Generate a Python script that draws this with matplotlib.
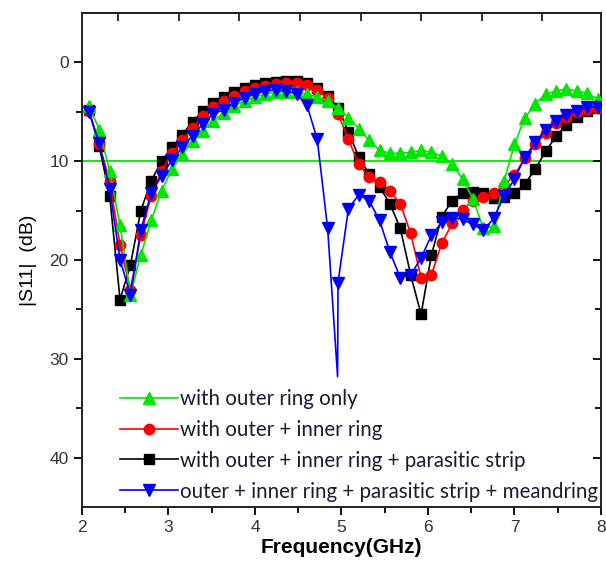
import numpy as np
import matplotlib
matplotlib.use("Agg")
import matplotlib.pyplot as plt

# ── Data ─────────────────────────────────────────────────────────────────────
freq = np.round(np.arange(2.08, 7.99, 0.12), 2)

green_db = [4.4, 6.8, 11.0, 16.5, 23.5, 19.5, 16.0, 13.0, 10.8, 9.3,
            8.0, 6.9, 5.9, 5.1, 4.4, 3.9, 3.5, 3.2, 3.0, 3.0,
            3.0, 3.2, 3.5, 3.9, 4.6, 5.6, 6.7, 7.9, 8.9, 9.2,
            9.2, 9.1, 8.9, 9.1, 9.5, 10.3, 11.8, 13.8, 16.8, 16.6,
            12.0, 8.3, 5.6, 4.2, 3.2, 2.9, 2.7, 2.9, 3.1, 3.7]

red_db = [4.9, 8.3, 12.0, 18.5, 23.0, 17.5, 13.5, 11.0, 9.2, 7.9,
          6.6, 5.4, 4.5, 3.9, 3.4, 2.9, 2.6, 2.4, 2.2, 2.1,
          2.1, 2.3, 2.8, 3.6, 5.2, 7.8, 10.3, 11.6, 12.1, 13.0,
          14.3, 17.3, 21.8, 21.5, 18.3, 16.3, 14.9, 14.0, 13.6, 13.2,
          12.5, 11.4, 9.7, 8.3, 7.1, 6.1, 5.5, 5.0, 4.7, 4.6]

black_db = [4.8, 8.5, 13.5, 24.0, 20.5, 15.0, 12.0, 10.0, 8.6, 7.3,
            6.0, 4.9, 4.1, 3.5, 3.0, 2.6, 2.3, 2.1, 2.0, 1.9,
            1.9, 2.1, 2.6, 3.4, 4.6, 7.0, 9.6, 11.3, 12.6, 14.3,
            16.8, 21.5, 25.5, 19.5, 15.6, 14.0, 13.2, 13.1, 13.2, 13.7,
            13.6, 13.2, 12.3, 10.8, 9.0, 7.5, 6.3, 5.5, 4.9, 4.6]

blue_db = [5.0, 8.2, 12.8, 20.0, 23.5, 17.0, 13.2, 11.5, 9.9, 8.6,
           7.4, 6.2, 5.2, 4.8, 4.1, 3.6, 3.2, 2.9, 2.8, 2.9,
           3.2, 4.3, 7.8, 16.8, 22.3, 14.8, 13.4, 14.0, 16.0, 19.2,
           21.8, 21.5, 19.8, 17.5, 16.2, 15.7, 15.9, 16.4, 17.0, 15.8,
           13.5, 11.8, 9.6, 8.1, 6.8, 5.9, 5.3, 4.9, 4.5, 4.5]

# sharp resonance of the meander-ring curve (line only, no marker)
blue_notch_f = 4.955
blue_notch_db = 31.8

threshold_db = 10

labels = ["with outer ring only",
          "with outer + inner ring",
          "with outer + inner ring + parasitic strip",
          "outer + inner ring + parasitic strip + meandring"]

# ── Figure ───────────────────────────────────────────────────────────────────
fig = plt.figure(figsize=(6.06, 5.65), dpi=100)
ax = fig.add_axes([0.1353, 0.1027, 0.8564, 0.8743])

GREEN, RED, BLACK, BLUE = "#00e600", "#ff0000", "#000000", "#0000ff"

ax.axhline(threshold_db, color=GREEN, lw=1.3, zorder=1)

l_black, = ax.plot(freq, black_db, color=BLACK, marker="s", ms=7, lw=1.2, zorder=2)
l_red, = ax.plot(freq, red_db, color=RED, marker="o", ms=7.5, lw=1.2, zorder=3)
l_green, = ax.plot(freq, green_db, color=GREEN, marker="^", ms=8, lw=1.2, zorder=4)

idx = int(np.searchsorted(freq, blue_notch_f))
blue_f = np.insert(freq, idx, blue_notch_f)
blue_y = np.insert(np.array(blue_db), idx, blue_notch_db)
marks = [i for i in range(len(blue_f)) if i != idx]
l_blue, = ax.plot(blue_f, blue_y, color=BLUE, marker="v", ms=8, lw=1.2,
                  markevery=marks, zorder=5)

ax.set_xlim(2, 8)
ax.set_ylim(45, -5)
ax.set_xticks(np.arange(2, 8.1, 1))
ax.set_xticks(np.arange(2.5, 8, 1), minor=True)
ax.set_yticks(np.arange(0, 41, 10))
ax.set_yticks(np.arange(5, 45, 10), minor=True)

tick_font = {"family": "Liberation Sans", "size": 12.5}
ax.set_xticklabels([f"{int(v)}" for v in np.arange(2, 8.1, 1)], fontdict=tick_font, color="#333333")
ax.set_yticklabels([f"{int(v)}" for v in np.arange(0, 41, 10)], fontdict=tick_font, color="#333333")

ax.tick_params(axis="both", which="major", direction="out", length=6, width=1.3, top=False)
ax.tick_params(axis="both", which="minor", direction="out", length=4, width=1.3, top=False)
ax.tick_params(axis="y", which="both", right=True, labelright=False)
for side in ["left", "right", "top", "bottom"]:
    ax.spines[side].set_linewidth(1.4)
    ax.spines[side].set_color("#222222")

# right-hand ticks point inward
for t in ax.yaxis.get_major_ticks() + ax.yaxis.get_minor_ticks():
    t.tick2line.set_marker(matplotlib.lines.TICKLEFT)

# top axis carries its own (unlabelled) inward ticks
top = ax.secondary_xaxis("top")
top.set_xticks(np.arange(2.42, 7.5, 0.7))
top.tick_params(axis="x", which="major", direction="in", length=6, width=1.3,
                labeltop=False, color="#222222")
top.tick_params(axis="x", which="minor", length=0)
top.spines["top"].set_linewidth(1.4)
top.spines["top"].set_color("#222222")

ax.set_xlabel("Frequency(GHz)", family="Liberation Sans", fontsize=15,
              fontweight="bold", labelpad=2)
ax.set_ylabel("|S11|  (dB)", family="Liberation Sans", fontsize=14, labelpad=9)

leg = ax.legend([l_green, l_red, l_black, l_blue], labels, loc="lower left",
                bbox_to_anchor=(0.05, -0.014), frameon=False, handlelength=2.8,
                handletextpad=0.1, labelspacing=0.53, borderaxespad=0.2,
                prop={"family": "Lato", "size": 14.8})
for txt in leg.get_texts():
    txt.set_color("#1a1a33")

fig.savefig("out.png", dpi=100)
